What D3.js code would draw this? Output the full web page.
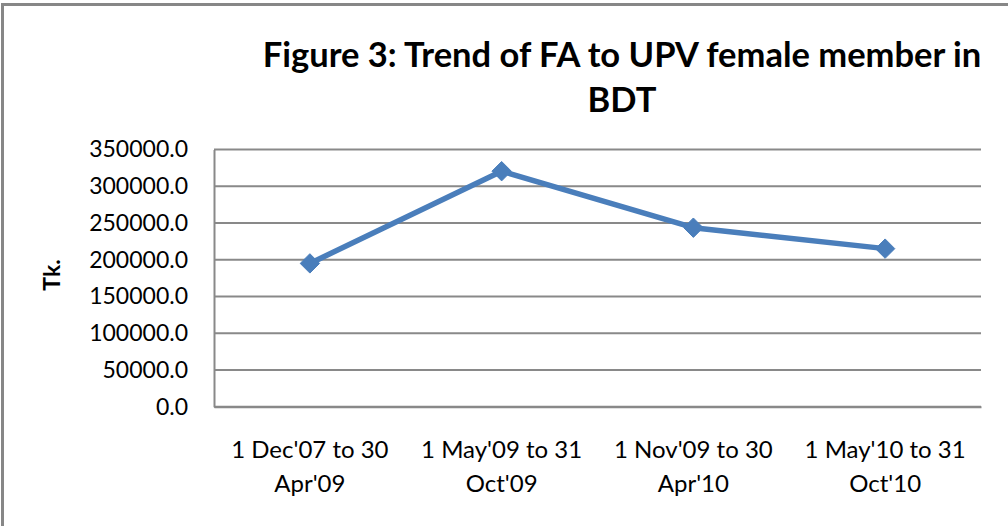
<!DOCTYPE html>
<html>
<head>
<meta charset="utf-8">
<script src="https://cdn.jsdelivr.net/npm/d3@7"></script>
<style>
  html, body { margin: 0; padding: 0; background: #fff; }
  svg { display: block; }
  text { font-family: Lato, "Open Sans", sans-serif; fill: #000; }
</style>
</head>
<body>
<svg id="chart" width="1008" height="526"></svg>
<script>
const categories = [
  ["1 Dec'07 to 30", "Apr'09"],
  ["1 May'09 to 31", "Oct'09"],
  ["1 Nov'09 to 30", "Apr'10"],
  ["1 May'10 to 31", "Oct'10"]
];
const values = [195000, 320500, 243600, 215100];
const yTicks = [0, 50000, 100000, 150000, 200000, 250000, 300000, 350000];
const titleLines = ["Figure 3: Trend of FA to UPV female member in", "BDT"];
const yAxisTitle = "Tk.";

const svg = d3.select("#chart");
const plot = { left: 214, right: 981, top: 149.5, bottom: 406.7 };

// outer chart border
svg.append("rect")
  .attr("x", 2.5).attr("y", 4.5)
  .attr("width", 1100).attr("height", 600)
  .attr("fill", "#fff")
  .attr("stroke", "#878787").attr("stroke-width", 3);

const x = d3.scaleBand()
  .domain(d3.range(categories.length))
  .range([plot.left, plot.right])
  .paddingInner(0).paddingOuter(0);

const y = d3.scaleLinear()
  .domain([0, 350000])
  .range([plot.bottom, plot.top]);

// gridlines
svg.append("g")
  .selectAll("line")
  .data(yTicks)
  .join("line")
  .attr("x1", plot.left).attr("x2", plot.right)
  .attr("y1", d => y(d)).attr("y2", d => y(d))
  .attr("stroke", "#898989").attr("stroke-width", 2);

// y axis
const yAxis = d3.axisLeft(y)
  .tickValues(yTicks)
  .tickFormat(d => d3.format(".1f")(d))
  .tickSize(0)
  .tickPadding(26);
const gy = svg.append("g")
  .attr("transform", `translate(${plot.left},0)`)
  .call(yAxis);
gy.select(".domain").attr("stroke", "#898989").attr("stroke-width", 2);
gy.selectAll("text")
  .attr("font-family", "Lato, sans-serif")
  .attr("font-size", 23)
  .attr("fill", "#000");

// x axis
const xAxis = d3.axisBottom(x).tickSize(0).tickFormat("");
const gx = svg.append("g")
  .attr("transform", `translate(0,${plot.bottom})`)
  .call(xAxis);
gx.select(".domain").attr("stroke", "#898989").attr("stroke-width", 2);
gx.selectAll(".tick").each(function(d) {
  const t = d3.select(this).append("text")
    .attr("text-anchor", "middle")
    .attr("font-family", "Lato, sans-serif")
    .attr("font-size", 24)
    .attr("fill", "#000");
  categories[d].forEach((line, i) => {
    t.append("tspan")
      .attr("x", 0)
      .attr("y", 51 + i * 34)
      .text(line);
  });
});

// line
const cx = i => x(i) + x.bandwidth() / 2;
const line = d3.line().x((d, i) => cx(i)).y(d => y(d));
svg.append("path")
  .datum(values)
  .attr("d", line)
  .attr("fill", "none")
  .attr("stroke", "#4a7ebb")
  .attr("stroke-width", 5.5)
  .attr("stroke-linejoin", "round");

// diamond markers
svg.append("g")
  .selectAll("path")
  .data(values)
  .join("path")
  .attr("d", d3.symbol().type(d3.symbolDiamond2).size(240))
  .attr("transform", (d, i) => `translate(${cx(i)},${y(d)})`)
  .attr("fill", "#4a7ebb")
  .attr("stroke", "#4a7ebb")
  .attr("stroke-width", 1);

// title
const title = svg.append("text")
  .attr("text-anchor", "middle")
  .attr("font-family", "Lato, sans-serif")
  .attr("font-weight", "bold")
  .attr("font-size", 34.5);
titleLines.forEach((l, i) => {
  title.append("tspan")
    .attr("x", 622)
    .attr("y", 67 + i * 45)
    .text(l);
});

// y axis title
svg.append("text")
  .attr("transform", "translate(60,275) rotate(-90)")
  .attr("text-anchor", "middle")
  .attr("font-family", "Lato, sans-serif")
  .attr("font-weight", "bold")
  .attr("font-size", 23)
  .text(yAxisTitle);
</script>
</body>
</html>
